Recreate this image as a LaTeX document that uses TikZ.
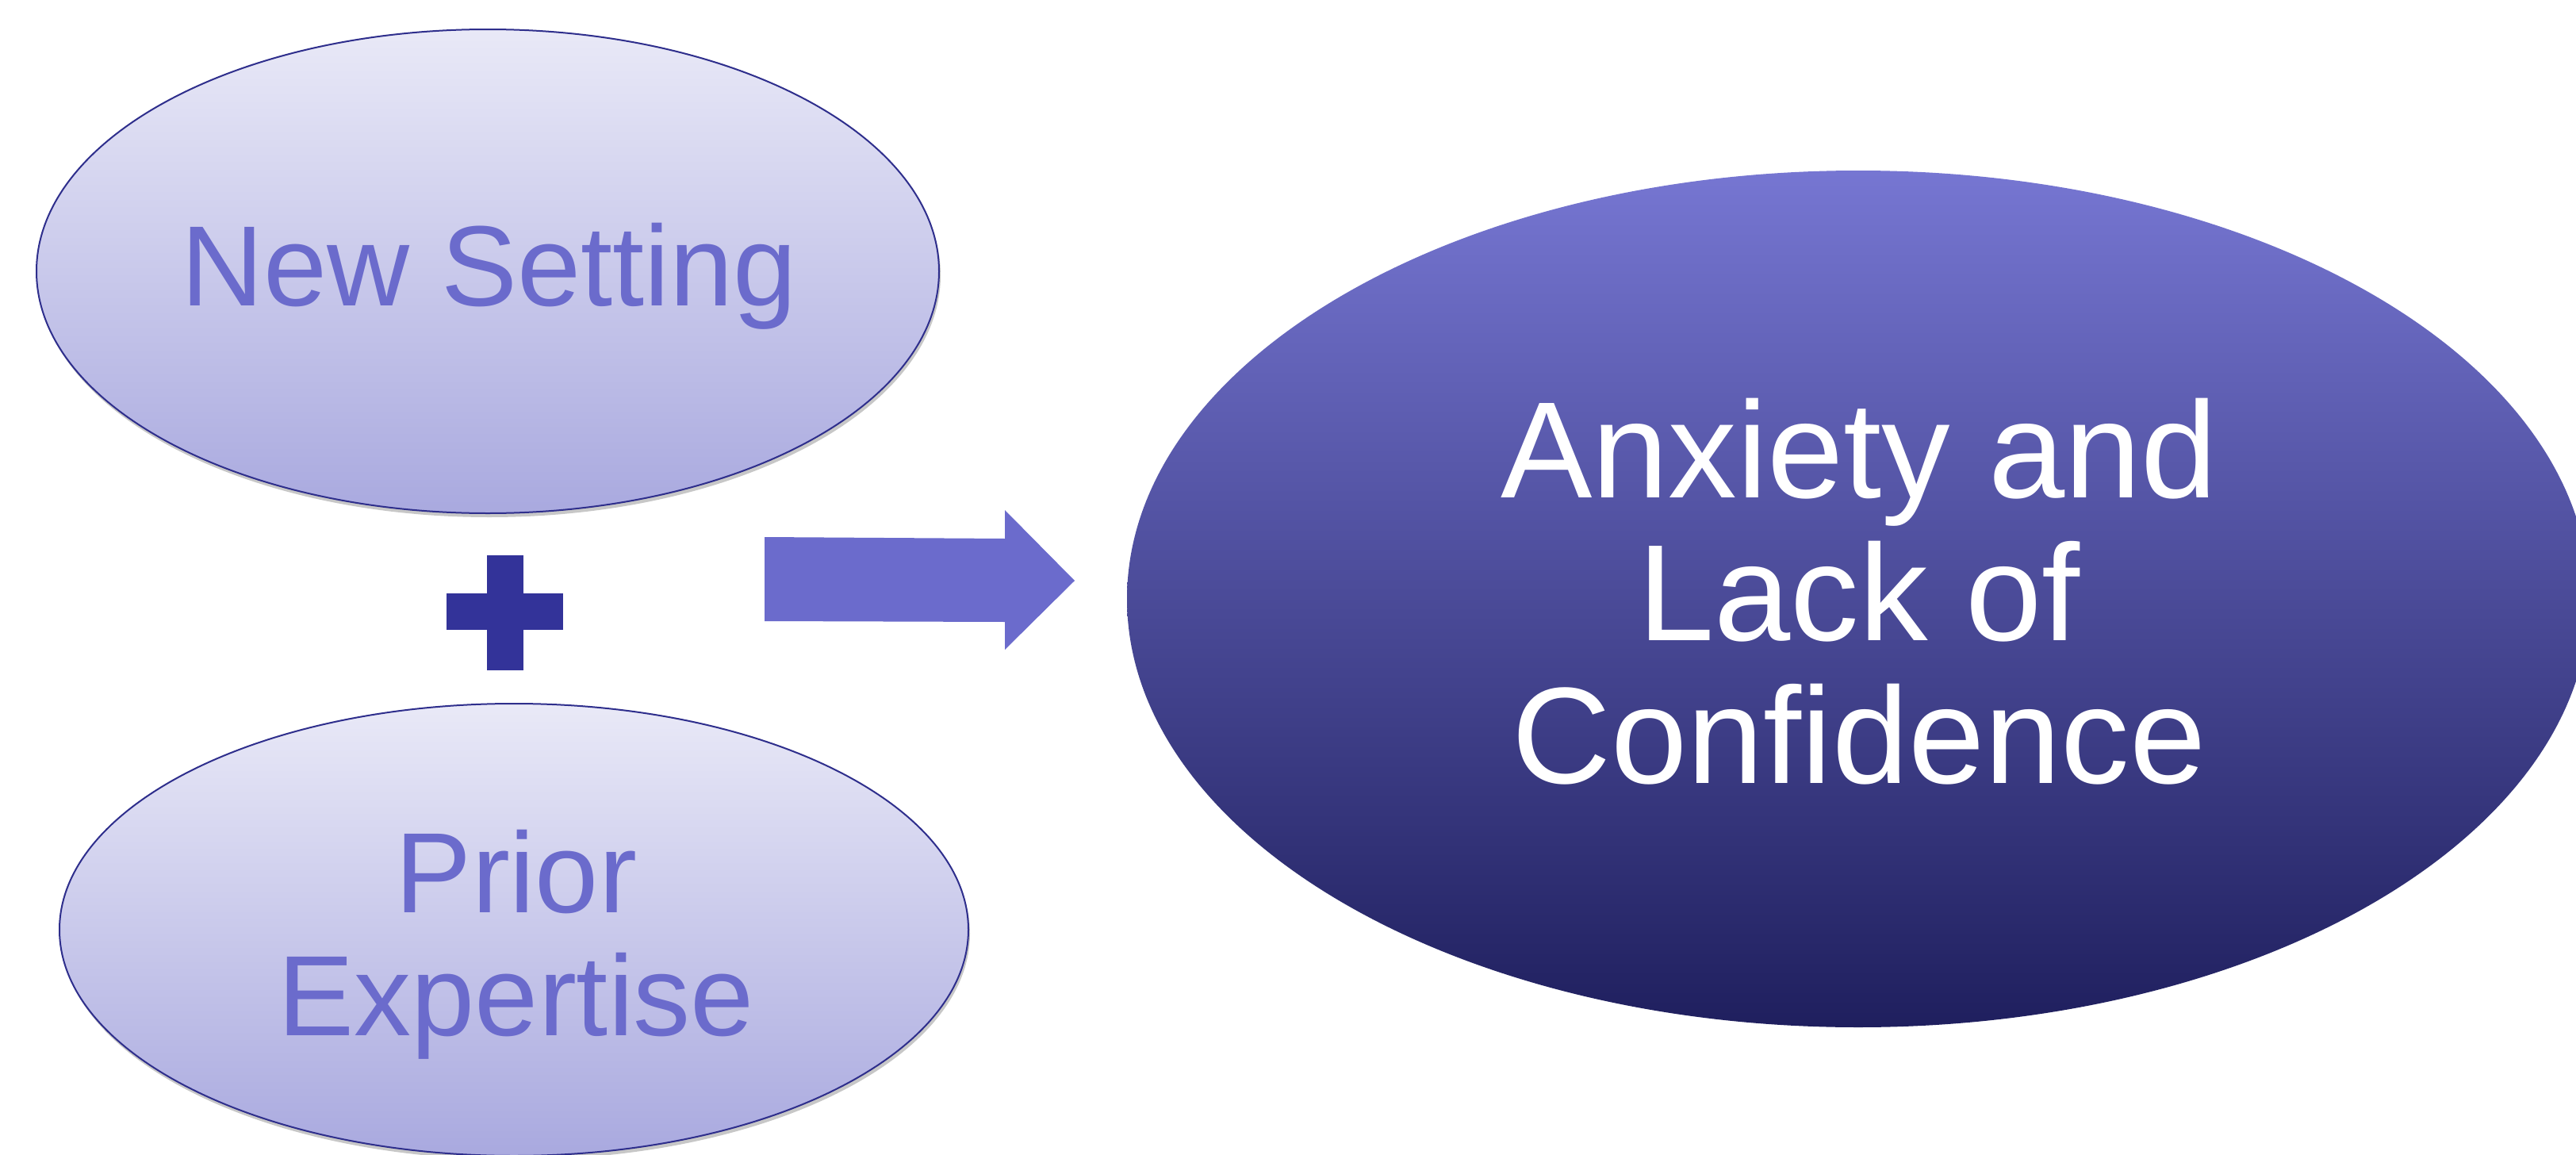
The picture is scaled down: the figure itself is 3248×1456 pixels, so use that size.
\documentclass[tikz,border=0pt]{standalone}
\usepackage{fontspec}
\setmainfont{Liberation Sans}
\usetikzlibrary{shapes.geometric}
\definecolor{lavtop}{HTML}{E9E9F7}
\definecolor{lavbot}{HTML}{A9A9DF}
\definecolor{navy}{HTML}{2E2E8C}
\definecolor{midblue}{HTML}{6B6BCC}
\definecolor{plusblue}{HTML}{333399}
\definecolor{bigtop}{HTML}{7676D2}
\definecolor{bigmid}{HTML}{35359B}
\definecolor{bigbot}{HTML}{1F1F5E}
\begin{document}
\begin{tikzpicture}[x=0.25pt,y=-0.25pt,
  smallell/.style={ellipse, draw=navy, line width=0.5pt, top color=lavtop, bottom color=lavbot, inner sep=0pt},
  shadowell/.style={ellipse, fill=black, opacity=0.22, inner sep=0pt},
  bigell/.style={ellipse, inner sep=0pt, top color=bigtop, middle color=bigmid, bottom color=bigbot},
  smalltxt/.style={text=midblue, font=\fontsize{36}{38.75}\selectfont, align=center, inner sep=0pt},
  bigtxt/.style={text=white, font=\fontsize{43.25}{45}\selectfont, align=center, inner sep=0pt}]
\useasboundingbox (0,0) rectangle (3248,1456);
\clip (0,0) rectangle (3248,1456);
% shadows
\node[shadowell, minimum width=284.5pt, minimum height=152.5pt] (nsS) at (617,347) {};
\node[shadowell, minimum width=286.5pt, minimum height=142.5pt] (peS) at (650,1177) {};
% small ellipses
\node[smallell, minimum width=284.5pt, minimum height=152.5pt] (ns) at (615,342) {};
\node[smallell, minimum width=286.5pt, minimum height=142.5pt] (pe) at (648,1172) {};
\node[smalltxt, anchor=base] (nst) at (617,385) {New Setting};
\node[smalltxt] (pet) at (651,1191) {Prior\\Expertise};
% plus
\fill[plusblue] (563,748) rectangle (710,794);
\fill[plusblue] (614,700) rectangle (660,845);
% block arrow
\fill[midblue] (964,677) -- (1267,679) -- (1267,643) -- (1355,732) -- (1267,819) -- (1267,784) -- (964,783) -- cycle;
% big ellipse
\node[bigell, minimum width=461pt, minimum height=270pt] (ax) at (2343,755) {};
\node[bigtxt] (axt) at (2344,746) {Anxiety and\\Lack of\\Confidence};
\end{tikzpicture}
\end{document}
